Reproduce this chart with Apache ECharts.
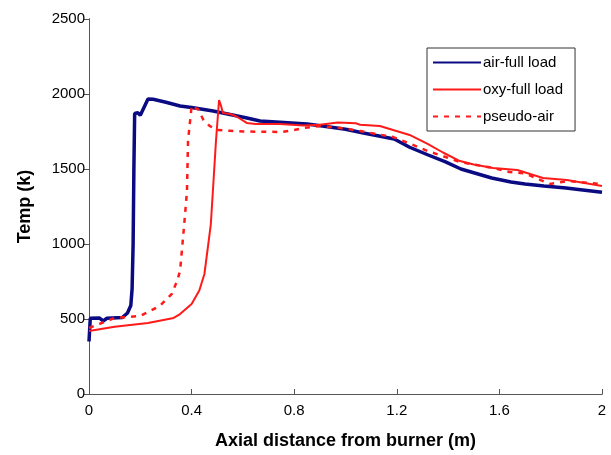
<!DOCTYPE html>
<html>
<head>
<meta charset="utf-8">
<script src="https://cdn.jsdelivr.net/npm/echarts@6/dist/echarts.min.js"></script>
<style>html,body{margin:0;padding:0;background:#fff}#c{width:611px;height:455px}</style>
</head>
<body>
<div id="c"></div>
<script>
var xTicks = [0, 0.4, 0.8, 1.2, 1.6, 2];
var yTicks = [0, 500, 1000, 1500, 2000, 2500];
var seriesNames = ['air-full load', 'oxy-full load', 'pseudo-air'];

var airX = [0, 0.005, 0.04, 0.055, 0.07, 0.13, 0.15, 0.163, 0.168, 0.172, 0.175, 0.178, 0.19, 0.2, 0.205, 0.23, 0.25, 0.3, 0.355, 0.4, 0.484, 0.616, 0.667, 0.745, 0.85, 0.91, 1.0, 1.07, 1.13, 1.19, 1.25, 1.32, 1.39, 1.45, 1.5, 1.57, 1.645, 1.7, 1.774, 1.86, 1.9, 2.0];
var airT = [350, 505, 507, 487, 505, 510, 540, 590, 700, 1000, 1500, 1870, 1875, 1858, 1855, 1967, 1965, 1945, 1920, 1910, 1887, 1840, 1820, 1812, 1800, 1787, 1765, 1740, 1720, 1700, 1645, 1595, 1547, 1500, 1475, 1440, 1413, 1400, 1387, 1373, 1365, 1345];

var oxyX = [0, 0.1, 0.23, 0.33, 0.355, 0.4, 0.43, 0.45, 0.463, 0.475, 0.483, 0.495, 0.507, 0.515, 0.522, 0.55, 0.575, 0.615, 0.65, 0.745, 0.835, 0.9, 0.97, 1.04, 1.057, 1.134, 1.25, 1.32, 1.38, 1.446, 1.5, 1.575, 1.67, 1.77, 1.863, 2.0];
var oxyT = [420, 448, 473, 507, 533, 600, 690, 800, 973, 1133, 1353, 1687, 1960, 1920, 1873, 1867, 1850, 1807, 1800, 1800, 1790, 1795, 1810, 1805, 1795, 1787, 1727, 1667, 1610, 1553, 1530, 1507, 1493, 1440, 1427, 1387];

var pseudoX = [0, 0.1, 0.2, 0.276, 0.323, 0.343, 0.355, 0.37, 0.382, 0.386, 0.4, 0.41, 0.425, 0.445, 0.47, 0.5, 0.55, 0.6, 0.75, 0.8, 0.835, 0.9, 1.0, 1.057, 1.186, 1.25, 1.32, 1.39, 1.446, 1.5, 1.575, 1.64, 1.7, 1.797, 1.87, 2.0];
var pseudoT = [440, 507, 520, 587, 667, 753, 820, 1107, 1353, 1687, 1920, 1905, 1900, 1830, 1787, 1760, 1755, 1750, 1747, 1760, 1773, 1787, 1770, 1753, 1713, 1670, 1620, 1580, 1547, 1530, 1507, 1480, 1470, 1400, 1420, 1400];

function zip(xs, ys) { return xs.map(function (x, i) { return [x, ys[i]]; }); }

var font = 'Liberation Sans, Arial, sans-serif';
var axisColor = '#555';
var chart = echarts.init(document.getElementById('c'));
chart.setOption({
  animation: false,
  backgroundColor: '#fff',
  grid: { left: 89, right: 9, top: 19, bottom: 61 },
  legend: {
    orient: 'vertical',
    left: 427, top: 48,
    width: 148,
    padding: [7, 12, 7, 5],
    itemGap: 12,
    itemWidth: 48, itemHeight: 14,
    borderColor: '#333', borderWidth: 1,
    backgroundColor: '#fff',
    itemStyle: { opacity: 0 },
    textStyle: { fontFamily: font, fontSize: 15, color: '#000', padding: [0, 0, 0, -3] },
    data: seriesNames
  },
  xAxis: [{
    type: 'value', min: 0, max: 2, interval: 0.4,
    name: 'Axial distance from burner (m)', nameLocation: 'middle', nameGap: 38,
    nameTextStyle: { fontFamily: font, fontSize: 18, fontWeight: 'bold', color: '#000' },
    axisLine: { show: true, lineStyle: { color: axisColor, width: 1 } },
    axisTick: { show: true, inside: true, length: 5, lineStyle: { color: axisColor } },
    axisLabel: { fontFamily: font, fontSize: 15, color: '#000', margin: 9,
      formatter: function (v) { return String(parseFloat(v.toFixed(1))); } },
    splitLine: { show: false }
  }, {
    type: 'value', min: 0, max: 2, position: 'top',
    axisLine: { show: true, lineStyle: { color: axisColor, width: 1 } },
    axisTick: { show: false }, axisLabel: { show: false }, splitLine: { show: false }
  }],
  yAxis: [{
    type: 'value', min: 0, max: 2500, interval: 500,
    name: 'Temp (k)', nameLocation: 'middle', nameGap: 55,
    nameTextStyle: { fontFamily: font, fontSize: 18, fontWeight: 'bold', color: '#000' },
    axisLine: { show: true, lineStyle: { color: axisColor, width: 1 } },
    axisTick: { show: true, inside: false, length: 5, lineStyle: { color: axisColor } },
    axisLabel: { fontFamily: font, fontSize: 15, color: '#000', margin: 4,
      formatter: function (v) { return String(v); } },
    splitLine: { show: false }
  }, {
    type: 'value', min: 0, max: 2500, position: 'right',
    axisLine: { show: true, lineStyle: { color: axisColor, width: 1 } },
    axisTick: { show: false }, axisLabel: { show: false }, splitLine: { show: false }
  }],
  series: [{
    name: seriesNames[0], type: 'line', symbol: 'none', z: 3,
    data: zip(airX, airT),
    lineStyle: { color: '#0a0a82', width: 3.5 }, itemStyle: { color: '#0a0a82' }
  }, {
    name: seriesNames[1], type: 'line', symbol: 'none', z: 4,
    data: zip(oxyX, oxyT),
    lineStyle: { color: '#ff1a1a', width: 2 }, itemStyle: { color: '#ff1a1a' }
  }, {
    name: seriesNames[2], type: 'line', symbol: 'none', z: 4,
    data: zip(pseudoX, pseudoT),
    lineStyle: { color: '#ff1a1a', width: 2.5, type: [5, 6] }, itemStyle: { color: '#ff1a1a' }
  }]
});
</script>
</body>
</html>
